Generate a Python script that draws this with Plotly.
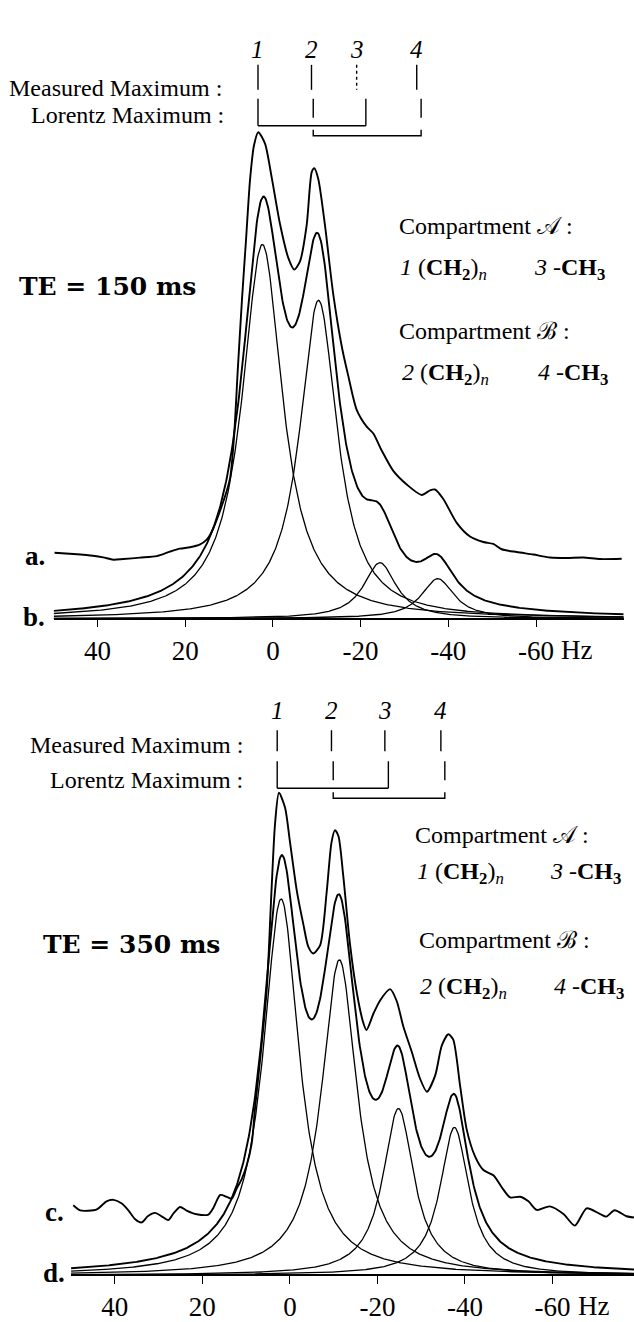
import numpy as np
import plotly.graph_objects as go

W, H = 634, 1322

# ---------------- TE = 150 ms (spectra a, b) ----------------
top_meas_hz = [49.8, 45.5, 41.0, 38.7, 36.4, 34.1, 30.3, 26.5, 23.5, 21.2, 18.9, 16.6, 15.1, 14.3, 12.1,
               9.8, 8.9, 8.0, 7.05, 6.13, 5.22, 4.31, 3.33, 1.8, 0.27, -1.62, -3.51, -4.88, -6.18, -7.71,
               -8.85, -9.44, -10.35, -11.88, -13.71, -15.76, -17.19, -19.11, -21.39, -22.9, -24.81, -27.46,
               -30.51, -33.93, -35.83, -36.97, -38.86, -41.92, -44.95, -47.99, -50.26, -52.18, -55.6,
               -59.39, -63.2, -67.01, -70.79, -74.6, -79.54]
top_meas_val = [3, 1.7, 0, -1.6, -4, -3.3, -1.9, -0.4, 4.1, 7.1, 8.5, 11.4, 16.2, 21, 44.4,
                77, 117, 187, 257, 316.6, 376.5, 411.4, 424.5, 413, 379, 332.5, 298.6, 286.8, 295, 331.7,
                384.5, 388.4, 377.6, 331, 263.8, 208.5, 180.3, 146.3, 129.4, 122.5, 105.5, 85,
                71.4, 60.9, 65.6, 66.4, 56.9, 33, 19.3, 13.8, 11.8, 6.5, 3.7,
                1.2, -1.7, -2.2, -1.8, -3.3, -3]
top_centers = [2.4, -10.4, -24.4, -37.6]     # Hz
top_heights = [375, 319, 56, 40]             # a.u.
top_widths = [5.6, 5.2, 4.5, 4.5]            # half width, Hz
top_offset = 63
top_meas_max = [3.4, -8.8, -19.1, -32.8]
top_lor_max = [3.4, -9.2, -21.2, -33.8]

# ---------------- TE = 350 ms (spectra c, d) ----------------
bot_meas_hz = [49.5, 47.9, 46.1, 44.1, 41.9, 40.3, 38.4, 36.9, 35.4, 33.9,
               32.4, 30.8, 29.3, 27.8, 26.6, 25.1, 23.6, 21.3, 18.6, 17.5,
               15.9, 14.4, 13.3, 12.2, 11.0, 9.9, 8.7, 8.0, 7.2, 5.3,
               4.2, 3.4, 2.5, 1.1, 0, -1.6, -3.1, -4.2, -5.3, -6.9,
               -8.4, -9.5, -10.3, -11.1, -12.2, -13.7, -15.3, -16.8, -17.5, -19.1,
               -20.6, -22.9, -24.4, -25.9, -27.8, -29.7, -31.3, -33.2, -34.7, -36.2,
               -37.3, -38.9, -40.4, -42.3, -44.2, -46.5, -48.4, -50.3, -52.6, -54.5,
               -56.4, -59.4, -62.5, -65.1, -67.8, -70.8, -72.3, -74.2, -76.9, -78.6]
bot_meas_val = [6, 0.8, 0.5, 1.9, 9.9, 11.4, 7.7, 0.9, -7.7, -11.2,
                -4.7, -1.6, -5.1, -8.8, -2.2, 4.3, 0.7, -3, -3.3, 3.2,
                16.3, 14.4, 12.6, 22.5, 32.3, 45.5, 68.6, 101.9, 135.1, 221.5,
                321.4, 387.9, 419.4, 404.3, 370.8, 320.6, 287, 265.2, 258.4, 266.5,
                319.7, 369.5, 382, 375.9, 335.8, 268.9, 218.7, 188.5, 181.7, 198.2,
                211.3, 222.6, 210.7, 185.5, 160.3, 133.3, 119.8, 136.2, 166, 177.4,
                172.2, 125.4, 81.8, 55, 41.3, 36, 24.1, 13.9, 14.5, 9.9,
                1.3, 4.9, -2.8, -14.4, 2.9, -2.6, -5.4, 1, -5, -6.3]
bot_centers = [2.0, -11.3, -24.8, -37.6]
bot_heights = [377, 316, 167, 148]
bot_widths = [5.0, 4.9, 4.3, 4.0]
bot_offset = 64
bot_meas_max = [2.9, -9.5, -21.7, -34.5]
bot_lor_max = [2.9, -9.9, -22.5, -35.4]

tick_vals = [40, 20, 0, -20, -40, -60]
tick_text = ["40", "20", "0", "-20", "-40", "-60"]
peak_labels = ["1", "2", "3", "4"]

# ---------------- figure ----------------
FONT = "Liberation Serif, serif"
BOLD_FONT = "DejaVu Serif, serif"
fig = go.Figure()
grid = np.linspace(50, -80, 801)


def lor(x, c, h, g):
    return h / (1.0 + ((x - c) / g) ** 2)


def add_panel(xa, ya, mhz, mval, cen, hei, wid, off, mmax, lmax, vnum, vm, vl, vb, dotted):
    comps = [lor(grid, c, h, g) for c, h, g in zip(cen, hei, wid)]
    for comp in comps:
        fig.add_trace(go.Scatter(x=grid, y=comp, mode="lines", xaxis=xa, yaxis=ya,
                                 line=dict(color="black", width=1.3), hoverinfo="skip"))
    fig.add_trace(go.Scatter(x=grid, y=np.sum(comps, axis=0), mode="lines", xaxis=xa, yaxis=ya,
                             line=dict(color="black", width=1.9), hoverinfo="skip"))
    fig.add_trace(go.Scatter(x=mhz, y=np.array(mval) + off, mode="lines", xaxis=xa, yaxis=ya,
                             line=dict(color="black", width=1.9, shape="spline", smoothing=0.7),
                             hoverinfo="skip"))
    # maximum markers
    for i, x in enumerate(mmax):
        fig.add_trace(go.Scatter(x=[x, x], y=[vm[0], vm[1]], mode="lines", xaxis=xa, yaxis=ya,
                                 line=dict(color="black", width=1.4, dash="dot" if i in dotted else "solid"),
                                 hoverinfo="skip"))
    for i, x in enumerate(lmax):
        bottom = vb[0] if i in (0, 2) else vl[1]
        fig.add_trace(go.Scatter(x=[x, x], y=[vl[0], bottom], mode="lines", xaxis=xa, yaxis=ya,
                                 line=dict(color="black", width=1.4), hoverinfo="skip"))
    fig.add_trace(go.Scatter(x=[lmax[0], lmax[2]], y=[vb[0], vb[0]], mode="lines", xaxis=xa, yaxis=ya,
                             line=dict(color="black", width=1.4), hoverinfo="skip"))
    fig.add_trace(go.Scatter(x=[lmax[1], lmax[1], lmax[3], lmax[3]],
                             y=[vb[1] + 6, vb[1], vb[1], vb[1] + 6], mode="lines", xaxis=xa, yaxis=ya,
                             line=dict(color="black", width=1.4), hoverinfo="skip"))
    for lab, x in zip(peak_labels, mmax):
        fig.add_annotation(x=x, y=vnum, xref=xa, yref=ya, text="<i>%s</i>" % lab, showarrow=False,
                           font=dict(family=FONT, size=25, color="black"))


add_panel("x", "y", top_meas_hz, top_meas_val, top_centers, top_heights, top_widths, top_offset,
          top_meas_max, top_lor_max, 570, (555, 530), (521, 502), (494, 484), (2,))
add_panel("x2", "y2", bot_meas_hz, bot_meas_val, bot_centers, bot_heights, bot_widths, bot_offset,
          bot_meas_max, bot_lor_max, 566, (546, 525), (515, 496), (488, 478), ())

axis_common = dict(tickmode="array", tickvals=tick_vals, ticktext=tick_text, showgrid=False,
                   zeroline=False, showline=True, linecolor="black", linewidth=1.6,
                   ticks="outside", ticklen=8, tickwidth=1.4, tickcolor="black",
                   tickfont=dict(family=FONT, size=27, color="black"), anchor="free")

fig.update_layout(
    width=W, height=H, margin=dict(l=0, r=0, t=0, b=0),
    paper_bgcolor="white", plot_bgcolor="white", showlegend=False,
    font=dict(family=FONT, color="black"),
    xaxis=dict(domain=[53.65 / W, 623.7 / W], range=[50, -80], position=1 - 620 / H, **axis_common),
    yaxis=dict(domain=[0.5, 1.0], range=[-41, 620], visible=False),
    xaxis2=dict(domain=[71.05 / W, 1.0], range=[50, -78.62], position=1 - 1278 / H, **axis_common),
    yaxis2=dict(domain=[0.0, 0.5], range=[-44, 617], visible=False),
)


def txt(text, x, y, anchor="left", size=24, family=FONT):
    fig.add_annotation(x=x / W, y=1 - y / H, xref="paper", yref="paper", text=text, showarrow=False,
                       xanchor=anchor, yanchor="middle",
                       font=dict(family=family, size=size, color="black"))


CH2 = "(<b>CH</b><sub><b>2</b></sub>)<sub><i>n</i></sub>"
CH3 = "-<b>CH</b><sub><b>3</b></sub>"

# Hz units next to -60
for xa, ya, v in (("x", "y", -31), ("x2", "y2", -31)):
    fig.add_annotation(x=-60, y=v, xref=xa, yref=ya, text="Hz", showarrow=False, xanchor="left",
                       xshift=23, font=dict(family=FONT, size=27, color="black"))

# top panel texts
txt("Measured Maximum :", 224, 88, "right", 24)
txt("Lorentz Maximum :", 226, 115, "right", 24)
txt("<b>TE = 150 ms</b>", 198, 287, "right", 25, BOLD_FONT)
txt("Compartment 𝒜 :", 397, 227)
txt("<i>1</i> " + CH2, 398, 270)
txt("<i>3</i> " + CH3, 607, 270, "right")
txt("Compartment ℬ :", 397, 332)
txt("<i>2</i> " + CH2, 400, 375)
txt("<i>4</i> " + CH3, 610, 375, "right")
txt("<b>a.</b>", 47, 557, "right", 27)
txt("<b>b.</b>", 47, 618, "right", 27)

# bottom panel texts
txt("Measured Maximum :", 245, 747, "right", 24)
txt("Lorentz Maximum :", 245, 782, "right", 24)
txt("<b>TE = 350 ms</b>", 222, 947, "right", 25, BOLD_FONT)
txt("Compartment 𝒜 :", 413, 837)
txt("<i>1</i> " + CH2, 415, 875)
txt("<i>3</i> " + CH3, 623, 875, "right")
txt("Compartment ℬ :", 417, 942)
txt("<i>2</i> " + CH2, 418, 990)
txt("<i>4</i> " + CH3, 626, 990, "right")
txt("<b>c.</b>", 66, 1215, "right", 27)
txt("<b>d.</b>", 67, 1276, "right", 27)

fig.write_html("out.html")
